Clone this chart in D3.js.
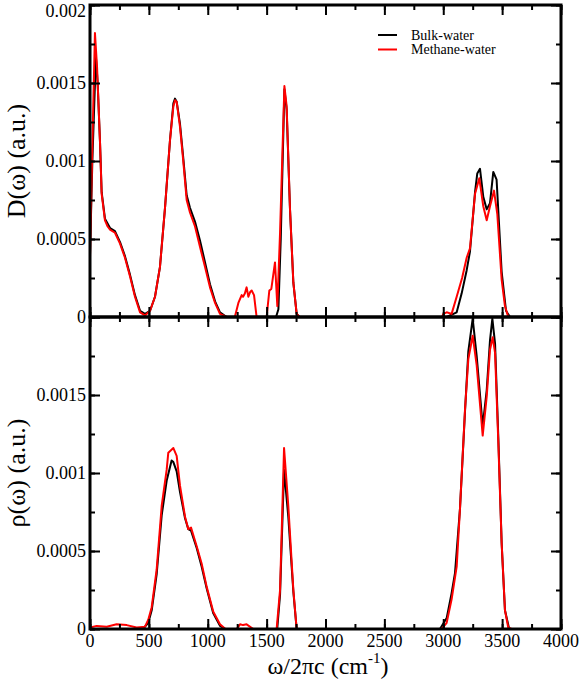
<!DOCTYPE html>
<html><head><meta charset="utf-8">
<script src="https://cdn.jsdelivr.net/npm/d3@7"></script>
<style>body{margin:0;background:#fff}svg{display:block}text{font-family:"Liberation Serif","Times New Roman",serif;fill:#000}</style>
</head><body><svg id="c" width="581" height="684"></svg>
<script>
// ---- data (cm^-1, a.u.) ----
const xTicks = [0, 500, 1000, 1500, 2000, 2500, 3000, 3500, 4000];
const yTicksTop = [0, 0.0005, 0.001, 0.0015, 0.002];
const yTicksBottom = [0, 0.0005, 0.001, 0.0015];
const seriesNames = ["Bulk-water", "Methane-water"];
const seriesColors = ["#000000", "#ff0000"];

const topBulk = [[0,0.0004],[20,0.001],[50,0.00167],[65,0.0015],[85,0.00112],[99,0.0008],[127,0.00063],[170,0.00057],[212,0.00055],[255,0.00048],[297,0.00039],[340,0.00027],[382,0.00014],[425,0.00004],[467,0.00002],[510,0.00004],[552,0.00013],[594,0.00032],[637,0.0007],[679,0.00113],[708,0.00137],[722,0.0014],[736,0.00138],[764,0.00124],[792,0.00102],[821,0.00078],[849,0.0007],[892,0.00061],[934,0.00049],[977,0.00035],[1019,0.00021],[1062,0.0001],[1104,0.00003],[1160,0],[1580,0],[1600,0.00005],[1620,0.0005],[1651,0.00146],[1670,0.00133],[1698,0.0007],[1727,0.00022],[1755,0.00002],[1780,0],[3029,0],[3114,0.00003],[3156,0.00015],[3199,0.0003],[3227,0.00042],[3270,0.0008],[3289,0.00092],[3312,0.00095],[3340,0.00077],[3369,0.00069],[3397,0.00073],[3425,0.00093],[3453,0.00088],[3496,0.00029],[3533,0.00004],[3567,0],[4000,0]];

const topMethane = [[0,0.00038],[20,0.0011],[42,0.00182],[60,0.0016],[85,0.00112],[99,0.00079],[127,0.00062],[150,0.00058],[170,0.00056],[212,0.00054],[255,0.00047],[297,0.00038],[340,0.00026],[382,0.00013],[425,0.00003],[467,0.00001],[510,0.00004],[552,0.00013],[594,0.00032],[637,0.0007],[679,0.00113],[708,0.00135],[722,0.00139],[736,0.00138],[764,0.00122],[792,0.001],[821,0.00075],[849,0.00067],[892,0.00058],[934,0.00045],[977,0.00032],[1019,0.00019],[1062,0.00009],[1104,0.00002],[1160,0],[1230,0],[1260,0.00009],[1288,0.00014],[1300,0.00013],[1315,0.00015],[1330,0.00019],[1345,0.00013],[1360,0.00016],[1373,0.00017],[1393,0.00014],[1415,0],[1500,0],[1523,0.00017],[1540,0.00018],[1571,0.00035],[1591,0.00007],[1614,0.00054],[1651,0.00148],[1670,0.00135],[1698,0.0007],[1727,0.00022],[1755,0.00002],[1780,0],[2990,0],[3001,0.00002],[3029,0.00003],[3071,0.00002],[3114,0.00013],[3160,0.00025],[3199,0.00038],[3227,0.00044],[3270,0.00079],[3306,0.00089],[3340,0.00071],[3369,0.00062],[3397,0.00071],[3431,0.00081],[3459,0.00066],[3496,0.00024],[3524,0.00007],[3552,0],[4000,0]];

const bottomBulk = [[0,0],[450,0],[495,0.00004],[524,0.00012],[566,0.00035],[609,0.00073],[651,0.00095],[693,0.00108],[708,0.00107],[736,0.00101],[764,0.00088],[807,0.00071],[835,0.00064],[858,0.00063],[906,0.00052],[948,0.0004],[991,0.00026],[1047,0.0001],[1104,0.00002],[1150,0],[1590,0],[1614,0.00022],[1648,0.00102],[1684,0.00072],[1727,0.00024],[1755,0],[2972,0],[3029,0.00007],[3071,0.00023],[3100,0.00036],[3142,0.00077],[3185,0.0014],[3213,0.00178],[3250,0.00199],[3284,0.00175],[3335,0.0013],[3369,0.00153],[3397,0.00185],[3417,0.00199],[3440,0.00183],[3468,0.00122],[3496,0.00055],[3524,0.00012],[3560,0],[4000,0]];

const bottomMethane = [[0,0.00001],[57,0.00002],[142,0.000015],[226,0.00003],[312,0.000025],[396,0.00001],[467,0.000015],[495,0.00006],[524,0.00014],[566,0.00038],[609,0.00079],[651,0.00102],[665,0.00113],[708,0.00116],[736,0.00111],[764,0.00092],[807,0.00072],[835,0.00064],[858,0.00065],[906,0.00053],[948,0.00042],[991,0.00027],[1047,0.00011],[1104,0.00003],[1150,0],[1246,0],[1274,0.00003],[1300,0.000025],[1330,0.00003],[1387,0],[1585,0],[1614,0.00025],[1648,0.00116],[1684,0.00079],[1727,0.00025],[1755,0],[2986,0],[3029,0.00004],[3071,0.00019],[3114,0.0004],[3142,0.00077],[3185,0.00141],[3213,0.00173],[3250,0.00188],[3284,0.00169],[3335,0.00124],[3369,0.00149],[3397,0.00179],[3420,0.00187],[3440,0.00177],[3468,0.00119],[3496,0.00055],[3524,0.00012],[3552,0.00001],[3580,0],[4000,0]];

// ---- layout ----
const svg = d3.select("#c");
const L = 90, R = 561;
const x = d3.scaleLinear().domain([0, 4000]).range([L, R]);
const panels = [
  {y: d3.scaleLinear().domain([0, 0.002]).range([317, 5]), data: [topBulk, topMethane], ticks: yTicksTop, label: "D(ω) (a.u.)", xLabels: false},
  {y: d3.scaleLinear().domain([0, 0.002]).range([629, 317]), data: [bottomBulk, bottomMethane], ticks: yTicksBottom, label: "ρ(ω) (a.u.)", xLabels: true}
];
const xMinor = d3.range(0, 4001, 250);
const yMinor = d3.range(0, 0.00201, 0.00025);
const fmt = v => v === 0 ? "0" : String(+v.toFixed(5));

panels.forEach((p, i) => {
  const [y0, y1] = p.y.range();
  const cid = "clip" + i;
  svg.append("clipPath").attr("id", cid).append("rect")
    .attr("x", L).attr("y", y1).attr("width", R - L).attr("height", y0 - y1);
  const line = d3.line().x(d => x(d[0])).y(d => p.y(d[1]));
  const g = svg.append("g").attr("clip-path", `url(#${cid})`);
  p.data.forEach((s, k) => {
    g.append("path").attr("d", line(s)).attr("fill", "none")
      .attr("stroke", seriesColors[k]).attr("stroke-width", 2).attr("stroke-linejoin", "round");
  });
  // ticks (inward)
  const tk = (axis, tr) => svg.append("g").attr("transform", tr).call(axis).call(a => { a.select(".domain").remove(); a.selectAll("line").attr("stroke", "#000").attr("stroke-width", 2); a.selectAll("text").remove(); });
  tk(d3.axisBottom(x).tickValues(xMinor).tickSize(-5), `translate(0,${y0})`);
  tk(d3.axisBottom(x).tickValues(xTicks).tickSize(-10), `translate(0,${y0})`);
  tk(d3.axisTop(x).tickValues(xMinor).tickSize(-5), `translate(0,${y1})`);
  tk(d3.axisTop(x).tickValues(xTicks).tickSize(-10), `translate(0,${y1})`);
  tk(d3.axisLeft(p.y).tickValues(yMinor).tickSize(-5), `translate(${L},0)`);
  tk(d3.axisLeft(p.y).tickValues(yTicksTop).tickSize(-10), `translate(${L},0)`);
  tk(d3.axisRight(p.y).tickValues(yMinor).tickSize(-5), `translate(${R},0)`);
  tk(d3.axisRight(p.y).tickValues(yTicksTop).tickSize(-10), `translate(${R},0)`);
  // frame
  svg.append("rect").attr("x", L).attr("y", y1).attr("width", R - L).attr("height", y0 - y1)
    .attr("fill", "none").attr("stroke", "#000").attr("stroke-width", 3);
  // y tick labels
  p.ticks.forEach(v => {
    svg.append("text").attr("x", 86).attr("y", Math.max(p.y(v) + 6, 17)).attr("text-anchor", "end")
      .attr("font-size", 18).text(fmt(v));
  });
  // y label
  svg.append("text").attr("transform", `translate(25,${(y0 + y1) / 2}) rotate(-90)`)
    .attr("text-anchor", "middle").attr("font-size", 26).text(p.label);
  if (p.xLabels) {
    xTicks.forEach(v => {
      svg.append("text").attr("x", x(v)).attr("y", y0 + 18).attr("text-anchor", "middle")
        .attr("font-size", 18).text(v);
    });
  }
});

// x label
const xl = svg.append("text").attr("x", 328).attr("y", 674).attr("text-anchor", "middle").attr("font-size", 24);
xl.append("tspan").text("ω/2πc (cm");
xl.append("tspan").attr("dy", -11).attr("font-size", 15).text("-1");
xl.append("tspan").attr("dy", 11).text(")");

// legend
seriesNames.forEach((n, k) => {
  const ly = 35 + k * 14.5;
  svg.append("line").attr("x1", 378).attr("x2", 397).attr("y1", ly).attr("y2", ly)
    .attr("stroke", seriesColors[k]).attr("stroke-width", 2);
  svg.append("text").attr("x", 411).attr("y", ly + 4.5).attr("font-size", 14).text(n);
});
</script></body></html>
